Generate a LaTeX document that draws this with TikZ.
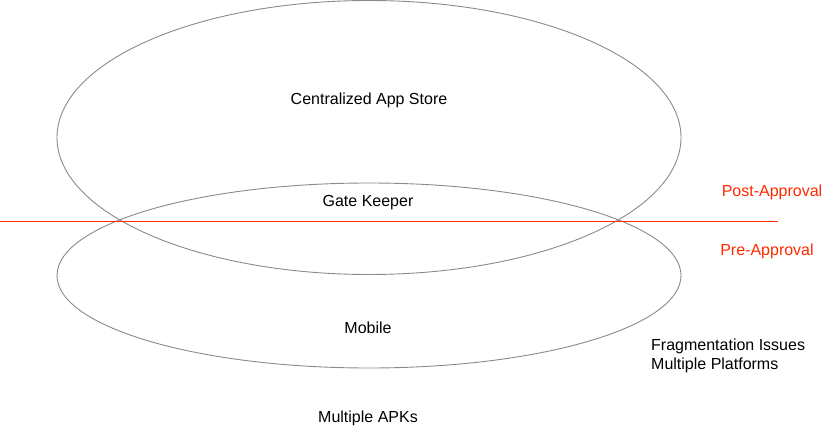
\documentclass[tikz,border=0pt]{standalone}
\usepackage{fontspec}
\setmainfont{Liberation Sans}
\usetikzlibrary{shapes.geometric}
\definecolor{ringgray}{HTML}{8A8A8A}
\definecolor{labred}{HTML}{FF2A00}
\begin{document}
\begin{tikzpicture}[x=1pt,y=-1pt,
  ring/.style={draw=ringgray,line width=0.9pt},
  lbl/.style={font=\fontsize{16}{19}\selectfont,inner sep=0pt},
  redlbl/.style={lbl,text=labred}]
\useasboundingbox (0,0) rectangle (830,433);
\node[ring,ellipse,minimum width=624pt,minimum height=274pt,inner sep=0pt] (store) at (369,137.5) {};
\node[ring,ellipse,minimum width=624pt,minimum height=185pt,inner sep=0pt] (mobileE) at (369,275.5) {};
\coordinate (lineL) at (0,221);
\coordinate (lineR) at (778,221);
\draw[labred,line width=0.7pt] (lineL) -- (lineR);
\node[lbl] (cas) at (369,100) {Centralized App Store};
\node[lbl] (gk) at (368,203) {Gate Keeper};
\node[lbl] (mob) at (368,328) {Mobile};
\node[lbl] (apk) at (368,418) {Multiple APKs};
\node[redlbl] (post) at (772,192) {Post-Approval};
\node[redlbl] (pre) at (767,251) {Pre-Approval};
\node[lbl,anchor=west] (frag) at (651,346) {Fragmentation Issues};
\node[lbl,anchor=west] (plat) at (651,365) {Multiple Platforms};
\end{tikzpicture}
\end{document}
